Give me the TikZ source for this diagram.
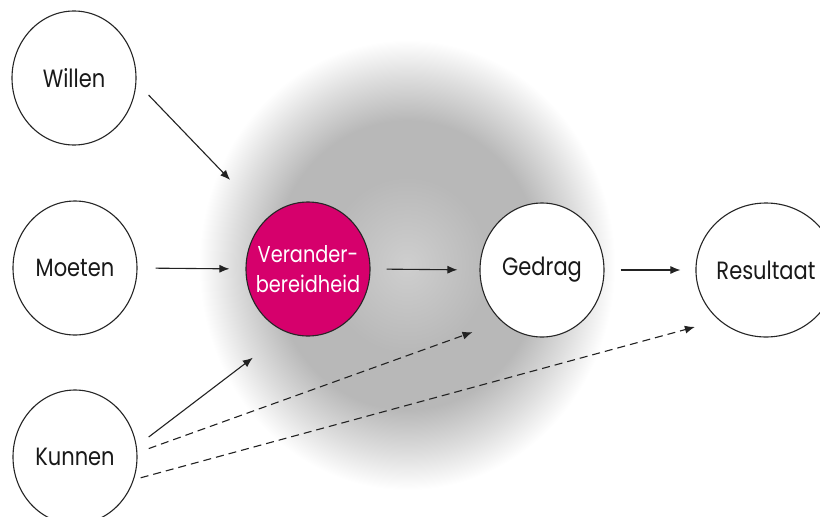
\documentclass[tikz,border=0pt]{standalone}
\usepackage{fontspec}
\setmainfont{Poppins}[FakeStretch=0.84]
\usetikzlibrary{shapes.geometric,arrows.meta}
\definecolor{magenta1}{HTML}{D6006C}
\definecolor{lineclr}{HTML}{222222}
\pgfdeclareradialshading{glowshade}{\pgfpoint{0bp}{0bp}}{%
  color(0bp)=(gray!38); color(10bp)=(gray!56); color(16bp)=(gray!56);
  color(21bp)=(gray!26); color(25bp)=(white); color(50bp)=(white)}
\begin{document}
\begin{tikzpicture}[x=1pt,y=-1pt,
  bubble/.style={ellipse, draw=black!85, line width=1.1pt, fill=white,
    minimum width=124pt, minimum height=134pt, inner sep=0pt,
    font=\fontsize{25}{30}\selectfont, text=black!90},
  keybubble/.style={bubble, fill=magenta1, text=white, align=center,
    font=\fontsize{23}{30}\selectfont},
  conn/.style={draw=lineclr, line width=1.1pt, -{Latex[length=10pt,width=8pt]}},
  dconn/.style={conn, dash pattern=on 8pt off 5pt}]
\useasboundingbox (0,0) rectangle (820,517);
\fill[white] (0,0) rectangle (820,517);
\shade[shading=glowshade] (407,265) ellipse [x radius=208, y radius=225];

\node[bubble] (willen) at (74,78) {Willen};
\node[bubble] (moeten) at (75,268) {Moeten};
\node[bubble] (kunnen) at (75,457) {Kunnen};
\node[keybubble] (verander) at (308,269) {\makebox[0pt][c]{Verander-}\\\makebox[0pt][c]{bereidheid}};
\node[bubble] (gedrag) at (542,270) {Gedrag};
\node[bubble] (resultaat) at (766,270) {Resultaat};

\draw[conn, shorten <=17.5pt, shorten >=53pt] (willen.-4) -- (verander.129);
\draw[conn, shorten <=18pt, shorten >=16pt] (moeten.0) -- (verander.180);
\draw[conn, shorten <=15pt, shorten >=42pt] (kunnen.10) -- (verander.251);
\draw[conn, shorten <=16pt, shorten >=22pt] (verander.0) -- (gedrag.180);
\draw[conn, shorten <=16pt, shorten >=15pt] (gedrag.0) -- (resultaat.180);
\draw[dconn, shorten <=12pt, shorten >=31pt] (kunnen.4) -- (gedrag.232);
\draw[dconn, shorten <=7pt, shorten >=25pt] (kunnen.-21.6) -- (resultaat.227);
\end{tikzpicture}
\end{document}
